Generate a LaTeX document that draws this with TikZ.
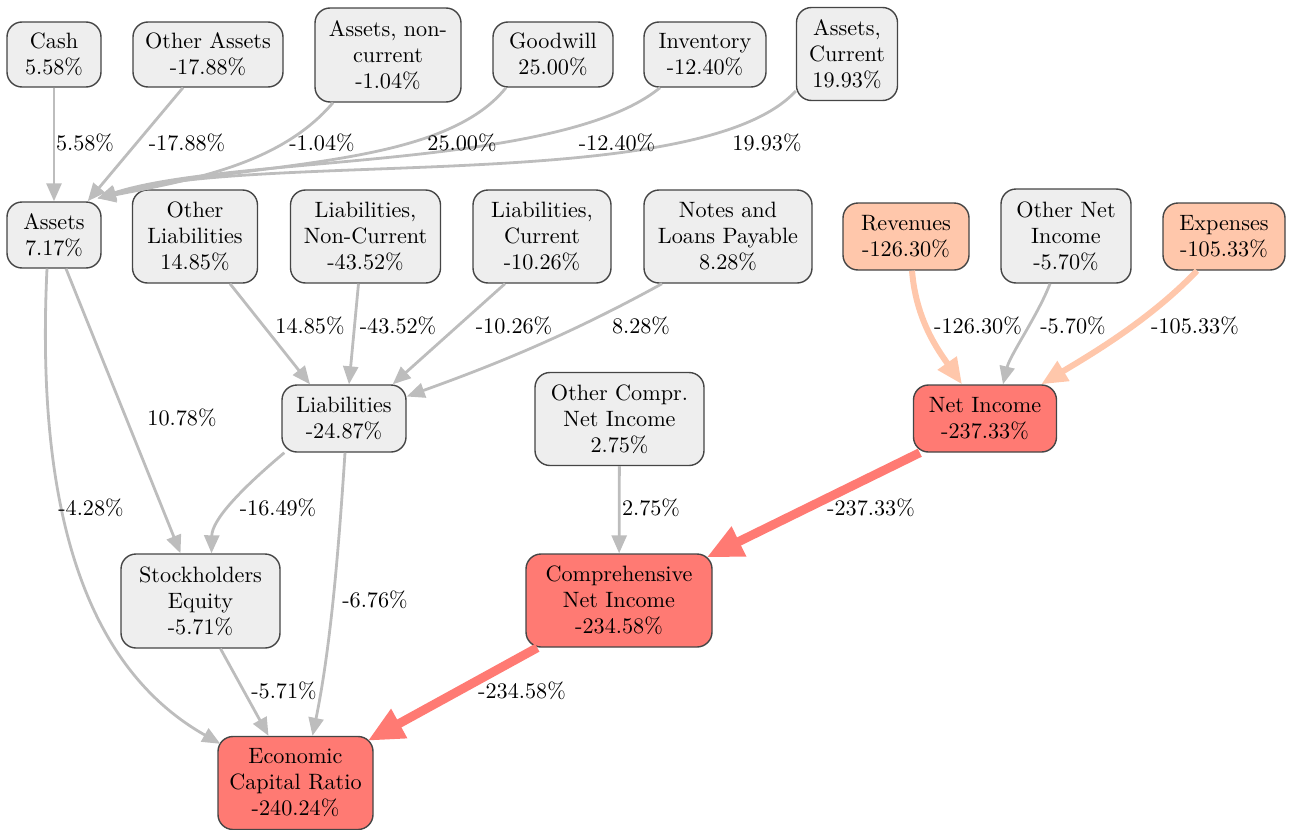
\documentclass[tikz,border=0pt]{standalone}
\usepackage{fontspec}
\newfontfamily\diafont{lmroman10-regular.otf}
\usetikzlibrary{arrows.meta,calc}
\definecolor{boxgray}{HTML}{EEEEEE}
\definecolor{bordergray}{HTML}{454545}
\definecolor{edgegray}{HTML}{BDBDBD}
\definecolor{peach}{HTML}{FFC7AB}
\definecolor{salmon}{HTML}{FF7A73}
\begin{document}
\begin{tikzpicture}[x=1pt,y=-1pt,
  font=\diafont\fontsize{22.2}{26}\selectfont,
  box/.style={draw=bordergray, line width=1.4pt, rounded corners=15pt, inner sep=0pt, align=center, fill=boxgray},
  peachbox/.style={box, fill=peach},
  redbox/.style={box, fill=salmon},
  sz/.style 2 args={minimum width=#1pt, minimum height=#2pt},
  lbl/.style={inner sep=0pt},
  ge/.style={draw=edgegray, line width=2.8pt, -{Triangle[length=18pt,width=15pt]}},
  pe/.style={draw=peach, line width=6pt, -{Triangle[length=26pt,width=22pt]}},
  rde/.style={draw=salmon, line width=9pt, -{Triangle[length=36pt,width=31pt]}}]
\useasboundingbox (0,0) rectangle (1291,830);

% top row
\node[box, sz={94}{65}] (cash) at (54,54.5) {Cash\\5.58\%};
\node[box, sz={150}{65}] (oa) at (208,54.5) {Other Assets\\-17.88\%};
\node[box, sz={146}{94}] (anc) at (388,55) {Assets, non-\\current\\-1.04\%};
\node[box, sz={120}{65}] (gw) at (553,54.5) {Goodwill\\25.00\%};
\node[box, sz={122}{65}] (inv) at (705,54.5) {Inventory\\-12.40\%};
\node[box, sz={101}{93}] (ac) at (847,54) {Assets,\\Current\\19.93\%};

% second row
\node[box, sz={94}{66}] (assets) at (54,235) {Assets\\7.17\%};
\node[box, sz={125}{93}] (ol) at (195,236.5) {Other\\Liabilities\\14.85\%};
\node[box, sz={150}{93}] (lnc) at (365.5,236.5) {Liabilities,\\Non-Current\\-43.52\%};
\node[box, sz={138}{93}] (lc) at (542,236.5) {Liabilities,\\Current\\-10.26\%};
\node[box, sz={168}{93}] (nlp) at (728,236.5) {Notes and\\Loans Payable\\8.28\%};
\node[peachbox, sz={126}{67}] (rev) at (906,236.5) {Revenues\\-126.30\%};
\node[box, sz={130}{94}] (oni) at (1066,236) {Other Net\\Income\\-5.70\%};
\node[peachbox, sz={122}{67}] (exp) at (1224,236.5) {Expenses\\-105.33\%};

% third row
\node[box, sz={124}{67}] (liab) at (344,418.5) {Liabilities\\-24.87\%};
\node[box, sz={169}{93}] (ocni) at (619.5,419) {Other Compr.\\Net Income\\2.75\%};
\node[redbox, sz={143}{67}] (ni) at (985,418.5) {Net Income\\-237.33\%};

% fourth row
\node[box, sz={159}{94}] (se) at (200.5,601) {Stockholders\\Equity\\-5.71\%};
\node[redbox, sz={186}{93}] (cni) at (619,600.5) {Comprehensive\\Net Income\\-234.58\%};

% bottom
\node[redbox, sz={155}{93}] (ecr) at (295.5,783) {Economic\\Capital Ratio\\-240.24\%};

% tip near Assets
\coordinate (atip) at ($(assets.north east)+(-4,-3)$);

% edges into Assets
\draw[ge] (cash) -- (assets);
\draw[ge] ($(oa.south)+(-25,0)$) -- ($(assets.north east)+(-14,0)$);
\draw[ge] ($(anc.south)+(-55,0)$) .. controls (280,165) and (190,180) .. (atip);
\draw[ge] ($(gw.south)+(-47,0)$) .. controls (440,170) and (250,160) .. (atip);
\draw[ge] ($(inv.south)+(-45,0)$) .. controls (560,170) and (230,155) .. (atip);
\draw[ge] ($(ac.west)+(0,37)$) .. controls (700,195) and (260,150) .. (atip);

% edges into Liabilities
\draw[ge] ($(ol.south)+(35,0)$) -- ($(liab.north)+(-34,0)$);
\draw[ge] ($(lnc.south)+(-7,0)$) -- ($(liab.north)+(5,0)$);
\draw[ge] ($(lc.south)+(-37,0)$) -- ($(liab.north east)+(-14,0)$);
\draw[ge] ($(nlp.south)+(-66,0)$) .. controls (560,340) and (480,370) .. ($(liab.east)+(0,-22)$);

% edges into Net Income
\draw[pe] ($(rev.south)+(6,0)$) .. controls (916,320) and (938,350) .. ($(ni.north)+(-23,0)$);
\draw[ge] ($(oni.south)+(-16,0)$) .. controls (1038,315) and (1010,355) .. ($(ni.north)+(18,0)$);
\draw[pe] ($(exp.south)+(-27,0)$) .. controls (1150,320) and (1090,355) .. ($(ni.north east)+(-16,0)$);

% lower edges
\draw[ge] ($(assets.south)+(12,0)$) -- ($(se.north)+(-20,0)$);
\draw[ge] ($(liab.south west)+(3,0)$) .. controls (240,490) and (212,520) .. ($(se.north)+(11,0)$);
\draw[ge] ($(assets.south)+(-7,0)$) .. controls (35,520) and (90,670) .. ($(ecr.north west)+(3,8)$);
\draw[ge] ($(liab.south)+(1,0)$) .. controls (338,560) and (330,650) .. ($(ecr.north)+(17,0)$);
\draw[ge] ($(se.south)+(20,0)$) -- ($(ecr.north)+(-27,0)$);
\draw[ge] (ocni) -- (cni);
\draw[rde] ($(ni.south west)+(7,0)$) -- ($(cni.north east)+(-6,4)$);
\draw[rde] ($(cni.south west)+(12,0)$) -- ($(ecr.north east)+(-6,5)$);

% edge labels
\node[lbl] (l1) at (85,143) {5.58\%};
\node[lbl] (l2) at (187,143) {-17.88\%};
\node[lbl] (l3) at (322,143) {-1.04\%};
\node[lbl] (l4) at (462,143) {25.00\%};
\node[lbl] (l5) at (617,143) {-12.40\%};
\node[lbl] (l6) at (767,143) {19.93\%};
\node[lbl] (l7) at (310,326) {14.85\%};
\node[lbl] (l8) at (398,326) {-43.52\%};
\node[lbl] (l9) at (514,326) {-10.26\%};
\node[lbl] (l10) at (641,326) {8.28\%};
\node[lbl] (l11) at (978,326) {-126.30\%};
\node[lbl] (l12) at (1073,326) {-5.70\%};
\node[lbl] (l13) at (1195,326) {-105.33\%};
\node[lbl] (l14) at (182,418) {10.78\%};
\node[lbl] (l15) at (91,508) {-4.28\%};
\node[lbl] (l16) at (278,508) {-16.49\%};
\node[lbl] (l17) at (651,508) {2.75\%};
\node[lbl] (l18) at (871,508) {-237.33\%};
\node[lbl] (l19) at (375,600) {-6.76\%};
\node[lbl] (l20) at (284,691) {-5.71\%};
\node[lbl] (l21) at (522,691) {-234.58\%};
\end{tikzpicture}
\end{document}
